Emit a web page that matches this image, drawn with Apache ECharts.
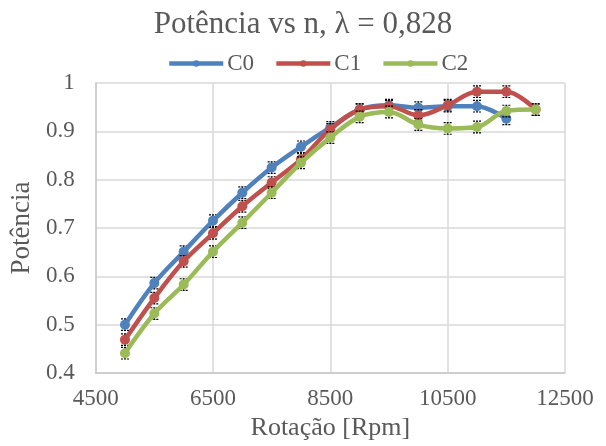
<!DOCTYPE html>
<html>
<head>
<meta charset="utf-8">
<script src="https://cdn.jsdelivr.net/npm/echarts@6/dist/echarts.min.js"></script>
<style>
html,body{margin:0;padding:0;background:#fff;}
#chart{width:606px;height:446px;}
</style>
</head>
<body>
<div id="chart"></div>
<script>
var rpm = [5000, 5500, 6000, 6500, 7000, 7500, 8000, 8500, 9000, 9500, 10000, 10500, 11000, 11500, 12000];
var c0 = [0.500, 0.586, 0.651, 0.715, 0.773, 0.825, 0.868, 0.908, 0.945, 0.954, 0.949, 0.952, 0.952, 0.926, null];
var c1 = [0.469, 0.555, 0.631, 0.689, 0.745, 0.794, 0.842, 0.904, 0.945, 0.952, 0.933, 0.954, 0.982, 0.982, 0.945];
var c2 = [0.441, 0.523, 0.583, 0.651, 0.711, 0.773, 0.835, 0.887, 0.930, 0.940, 0.914, 0.906, 0.909, 0.942, 0.945];
var errC0 = [0.012, 0.012, 0.012, 0.012, 0.012, 0.012, 0.012, 0.012, 0.012, 0.012, 0.012, 0.012, 0.012, 0.012, null];
var errC1 = [0.012, 0.012, 0.012, 0.012, 0.012, 0.012, 0.012, 0.012, 0.012, 0.012, 0.012, 0.012, 0.012, 0.012, 0.012];
var errC2 = [0.012, 0.012, 0.012, 0.012, 0.012, 0.012, 0.012, 0.012, 0.012, 0.012, 0.012, 0.012, 0.012, 0.012, 0.012];
var seriesNames = ['C0', 'C1', 'C2'];
var xTicks = [4500, 6500, 8500, 10500, 12500];
var yTicks = [0.4, 0.5, 0.6, 0.7, 0.8, 0.9, 1];

var colors = ['#4F81BD', '#C0504D', '#9BBB59'];
var font = 'Liberation Serif';
var txt = '#595959';

function pairs(ys) {
  var out = [];
  for (var i = 0; i < rpm.length; i++) if (ys[i] != null) out.push([rpm[i], ys[i]]);
  return out;
}
function errData(ys, es) {
  var out = [];
  for (var i = 0; i < rpm.length; i++) if (ys[i] != null) out.push([rpm[i], ys[i], es[i]]);
  return out;
}
function errRender(params, api) {
  var x = api.value(0), y = api.value(1), e = api.value(2);
  var top = api.coord([x, y + e]);
  var bot = api.coord([x, y - e]);
  var hw = 4;
  var st = {stroke: '#000', lineWidth: 1.2, lineDash: [2, 1]};
  return {
    type: 'group',
    children: [
      {type: 'line', shape: {x1: top[0], y1: top[1], x2: bot[0], y2: bot[1]}, style: {stroke: '#000', lineWidth: 1}},
      {type: 'line', shape: {x1: top[0] - hw, y1: top[1], x2: top[0] + hw, y2: top[1]}, style: st},
      {type: 'line', shape: {x1: bot[0] - hw, y1: bot[1], x2: bot[0] + hw, y2: bot[1]}, style: st}
    ]
  };
}

var allY = [c0, c1, c2];
var allE = [errC0, errC1, errC2];
var series = [];
for (var k = 0; k < 3; k++) {
  series.push({
    name: 'err' + k,
    type: 'custom',
    renderItem: errRender,
    data: errData(allY[k], allE[k]),
    encode: {x: 0, y: 1},
    z: 1 + 2 * k,
    silent: true
  });
  series.push({
    name: seriesNames[k],
    type: 'line',
    data: pairs(allY[k]),
    smooth: 0.35,
    symbol: 'circle',
    symbolSize: 10,
    lineStyle: {width: 4.5, color: colors[k]},
    itemStyle: {color: colors[k]},
    z: 2 + 2 * k
  });
}

var chart = echarts.init(document.getElementById('chart'), null, {renderer: 'canvas'});
chart.setOption({
  animation: false,
  backgroundColor: '#fff',
  title: {
    text: 'Potência vs n, λ = 0,828',
    left: 'center',
    top: 4,
    textStyle: {fontFamily: font, fontSize: 31, fontWeight: 'normal', color: txt}
  },
  legend: {
    data: seriesNames,
    top: 52,
    left: 167,
    padding: 0,
    itemWidth: 54,
    itemHeight: 8,
    itemGap: 20,
    lineStyle: {width: 4.5},
    textStyle: {fontFamily: font, fontSize: 23, color: txt, padding: [0, 0, 0, -1]}
  },
  grid: {left: 93, right: 41, top: 83, bottom: 72, containLabel: false},
  xAxis: {
    type: 'value',
    min: xTicks[0],
    max: xTicks[xTicks.length - 1],
    interval: xTicks[1] - xTicks[0],
    name: 'Rotação [Rpm]',
    nameLocation: 'middle',
    nameGap: 42,
    nameTextStyle: {fontFamily: font, fontSize: 26, color: txt},
    axisLine: {show: true, lineStyle: {color: '#c8c8c8', width: 1.5}},
    axisTick: {show: false},
    axisLabel: {fontFamily: font, fontSize: 23, color: txt, margin: 14,
      formatter: function (v) { return String(v); }},
    splitLine: {show: true, lineStyle: {color: '#d9d9d9', width: 1.5}}
  },
  yAxis: {
    type: 'value',
    min: yTicks[0],
    max: yTicks[yTicks.length - 1],
    interval: 0.1,
    name: 'Potência',
    nameLocation: 'middle',
    nameGap: 54,
    nameRotate: 90,
    nameTextStyle: {fontFamily: font, fontSize: 27, color: txt},
    axisLine: {show: true, lineStyle: {color: '#c8c8c8', width: 1.5}},
    axisTick: {show: false},
    axisLabel: {
      fontFamily: font, fontSize: 23, color: txt, margin: 21,
      formatter: function (v) { return String(parseFloat(v.toFixed(1))); }
    },
    splitLine: {show: true, lineStyle: {color: '#d9d9d9', width: 1.5}}
  },
  series: series
});
</script>
</body>
</html>
